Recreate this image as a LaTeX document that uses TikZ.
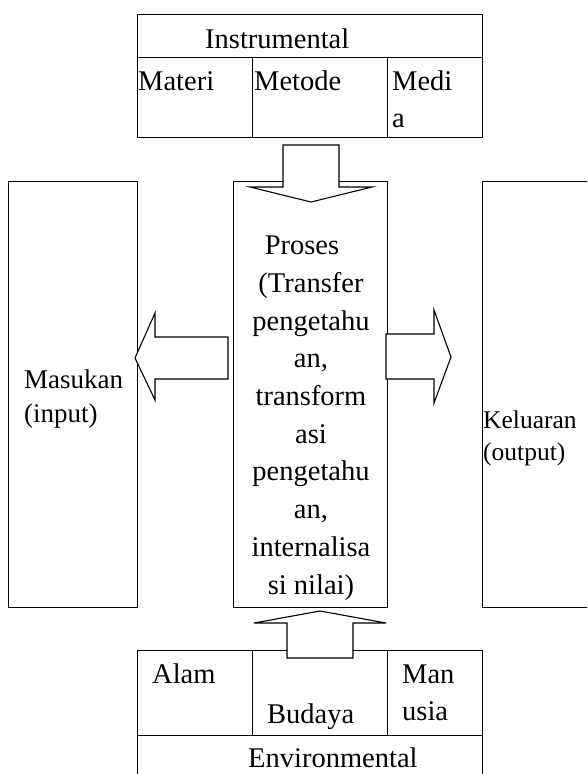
\documentclass[tikz,border=0pt]{standalone}
\usepackage{fontspec}
\setmainfont{Liberation Serif}
\begin{document}
\begin{tikzpicture}[x=1pt,y=-1pt,
  cell/.style={draw, line width=1.4pt, inner sep=0pt},
  blockarrow/.style={draw, fill=white, line width=1.1pt, line join=miter},
  txt/.style={inner sep=0pt, anchor=base west, align=left, font=\fontsize{28.5}{36}\selectfont},
  ctxt/.style={inner sep=0pt, anchor=base, align=center, font=\fontsize{28.5}{37.7}\selectfont}]
\useasboundingbox (0,0) rectangle (587,774);
\clip (0,0) rectangle (587,774);

% top table (Instrumental)
\node[cell, minimum width=345pt, minimum height=43pt, anchor=north west] (instr) at (137,14) {};
\node[cell, minimum width=115pt, minimum height=80pt, anchor=north west] (materi) at (137,57) {};
\node[cell, minimum width=135pt, minimum height=80pt, anchor=north west] (metode) at (252,57) {};
\node[cell, minimum width=95pt, minimum height=80pt, anchor=north west] (media) at (387,57) {};

% middle boxes
\node[cell, minimum width=129pt, minimum height=426pt, anchor=north west] (masukan) at (8,181) {};
\node[cell, minimum width=154pt, minimum height=426pt, anchor=north west] (proses) at (233,181) {};
\node[cell, minimum width=130pt, minimum height=426pt, anchor=north west] (keluaran) at (482,181) {};

% bottom table (Environmental)
\node[cell, minimum width=115pt, minimum height=85pt, anchor=north west] (alam) at (137,650) {};
\node[cell, minimum width=135pt, minimum height=85pt, anchor=north west] (budaya) at (252,650) {};
\node[cell, minimum width=95pt, minimum height=85pt, anchor=north west] (manusia) at (387,650) {};
\node[cell, minimum width=345pt, minimum height=80pt, anchor=north west] (env) at (137,735) {};

% block arrows
\draw[blockarrow] (283,145) -- (339,145) -- (339,187) -- (372,187) -- (311,202) -- (250,187) -- (283,187) -- cycle;
\draw[blockarrow] (287,658) -- (353,658) -- (353,623) -- (386,623) -- (320,611) -- (254,623) -- (287,623) -- cycle;
\draw[blockarrow] (228,337) -- (228,379) -- (155,379) -- (155,400) -- (135,358) -- (155,313) -- (155,337) -- cycle;
\draw[blockarrow] (386,334) -- (434,334) -- (434,310) -- (451,357) -- (434,403) -- (434,379) -- (386,379) -- cycle;

% texts (multi-line nodes: base = last line's baseline)
\node[txt] (tinstr) at (205,48) {Instrumental};
\node[txt] (tmateri) at (138,90) {Materi};
\node[txt] (tmetode) at (254,90) {Metode};
\node[txt, font=\fontsize{28.5}{37}\selectfont] (tmedia) at (392,127) {Medi\\a};

\node[txt, font=\fontsize{27}{34}\selectfont] (tmasukan) at (24,422) {Masukan\\(input)};
\node[txt, font=\fontsize{25.5}{32}\selectfont] (tkeluaran) at (483,460) {Keluaran\\(output)};
\node[ctxt] (tproses) at (311,594) {Proses\hspace*{18pt}\\(Transfer\\pengetahu\\an,\\transform\\asi\\pengetahu\\an,\\internalisa\\si nilai)};

\node[txt] (talam) at (152,683) {Alam};
\node[txt] (tbudaya) at (267,723) {Budaya};
\node[txt, font=\fontsize{28.5}{37}\selectfont] (tmanusia) at (402,720) {Man\\usia};
\node[txt] (tenv) at (248,767) {Environmental};
\end{tikzpicture}
\end{document}
